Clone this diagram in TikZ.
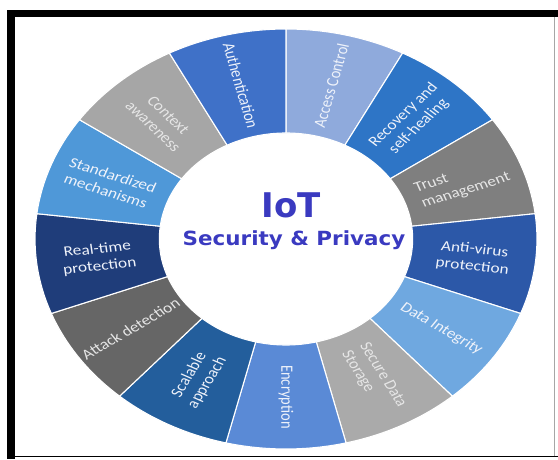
\documentclass[tikz,border=0pt]{standalone}
\usepackage{fontspec}
\newfontfamily\lblfont{Carlito}
\newfontfamily\ctrfont{DejaVu Sans}
\definecolor{cAccess}{RGB}{143,170,220}
\definecolor{cRecov}{RGB}{46,117,198}
\definecolor{cTrust}{RGB}{127,127,127}
\definecolor{cAnti}{RGB}{44,88,168}
\definecolor{cData}{RGB}{111,168,224}
\definecolor{cSecure}{RGB}{170,170,170}
\definecolor{cEncr}{RGB}{90,138,214}
\definecolor{cScal}{RGB}{35,94,156}
\definecolor{cAttack}{RGB}{102,102,102}
\definecolor{cReal}{RGB}{31,61,122}
\definecolor{cStd}{RGB}{79,152,216}
\definecolor{cContext}{RGB}{166,166,166}
\definecolor{cAuth}{RGB}{63,113,200}
\definecolor{ctrtext}{RGB}{58,58,192}
\definecolor{lblw}{RGB}{238,242,250}
\definecolor{lblg}{RGB}{230,230,230}
\tikzset{
  seg/.style={fill=#1, draw=white, line width=1.1pt, line join=round},
  lbl/.style={font=\lblfont\fontsize{14.5}{17}\selectfont, text=lblw, align=center, transform shape, inner sep=0pt},
  lblgray/.style={lbl, text=lblg},
  ctr/.style={font=\ctrfont\bfseries, text=ctrtext, inner sep=0pt, anchor=base},
}
\begin{document}
\begin{tikzpicture}[x=1pt,y=1pt]
\useasboundingbox (0,0) rectangle (558,459);
\fill[white] (0,0) rectangle (558,459);
% frame
\fill[black] (7,442) rectangle (558,449);
\fill[black] (7,0) rectangle (15,449);
\draw[black, line width=1.5pt] (15,2.5) -- (558,2.5);
\draw[black!35, line width=0.6pt] (554,3.2) -- (554,442);
\begin{scope}[shift={(286,220)}, xscale=1.195]
  \foreach \i/\c in {0/cAccess,1/cRecov,2/cTrust,3/cAnti,4/cData,5/cSecure,6/cEncr,7/cScal,8/cAttack,9/cReal,10/cStd,11/cContext,12/cAuth} {
    \pgfmathsetmacro\a{90-\i*360/13}
    \pgfmathsetmacro\b{\a-360/13}
    \path[seg=\c] (\a:210) arc[start angle=\a, end angle=\b, radius=210]
      -- (\b:106) arc[start angle=\b, end angle=\a, radius=106] -- cycle;
  }
  \node[lbl, rotate=76.15] (lAccess) at (76.15:158) {Access Control};
  \node[lbl, rotate=48.46] (lRecov) at (48.46:158) {Recovery and\\self-healing};
  \node[lblgray, align=left, rotate=20.77] (lTrust) at (20.77:158) {Trust\\management};
  \node[lbl, rotate=-6.92] (lAnti) at (-6.92:158) {Anti-virus\\protection};
  \node[lbl, rotate=-34.62] (lData) at (-34.62:158) {Data Integrity};
  \node[lblgray, align=left, rotate=-62.31] (lSecure) at (-62.31:158) {Secure Data\\Storage};
  \node[lbl, rotate=-90] (lEncr) at (-90:158) {Encryption};
  \node[lbl, rotate=62.31] (lScal) at (-117.69:158) {Scalable\\approach};
  \node[lblgray, rotate=34.62] (lAttack) at (-145.38:158) {Attack detection};
  \node[lbl, rotate=6.92] (lReal) at (-173.08:158) {Real-time\\protection};
  \node[lbl, rotate=-20.77] (lStd) at (159.23:158) {Standardized\\mechanisms};
  \node[lblgray, rotate=-48.46] (lContext) at (131.54:158) {Context\\awareness};
  \node[lbl, rotate=-76.15] (lAuth) at (103.85:158) {Authentication};
\end{scope}
\node[ctr, font=\ctrfont\bfseries\fontsize{34}{34}\selectfont] (tIoT) at (291,241) {IoT};
\node[ctr, font=\ctrfont\bfseries\fontsize{19.5}{20}\selectfont, xscale=1.1] (tSec) at (294,213.3) {Security \& Privacy};
\end{tikzpicture}
\end{document}
